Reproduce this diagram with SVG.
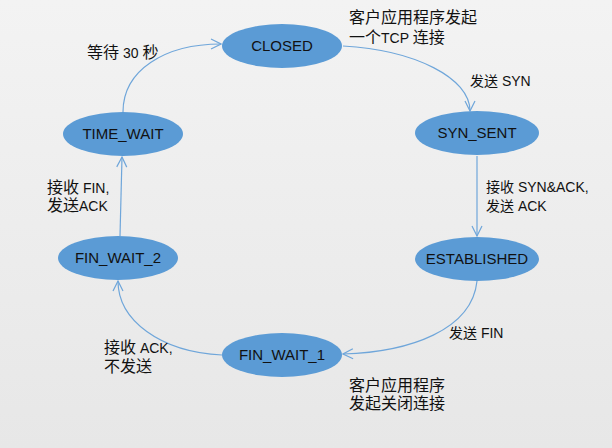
<svg xmlns="http://www.w3.org/2000/svg" width="612" height="448" viewBox="0 0 612 448">
<defs>
<linearGradient id="bg" x1="0" y1="0" x2="0" y2="1">
<stop offset="0" stop-color="#f3f3f3"/>
<stop offset="1" stop-color="#e7e7e7"/>
</linearGradient>
<marker id="arr" viewBox="0 0 12 12" refX="11" refY="6" markerWidth="12" markerHeight="12" markerUnits="userSpaceOnUse" orient="auto">
<path d="M1,1 L11,6 L1,11" fill="none" stroke="#6fa6da" stroke-width="1.2"/>
</marker>
</defs>
<style>
.node{fill:#5b9bd5;}
.nt{font-family:"Liberation Sans","Open Sans",sans-serif;font-size:15px;fill:#111;text-anchor:middle;}
.lb{font-family:"Liberation Sans","Noto Sans CJK SC",sans-serif;font-size:14px;fill:#111;}
.cj{font-size:16px;}
.conn path{fill:none;stroke:#6fa6da;stroke-width:1.2;marker-end:url(#arr);}
</style>
<rect width="612" height="448" fill="url(#bg)"/>
<g id="connectors" class="conn">
<path d="M123,112 C123,70 165,44 221,44"/>
<path d="M343,46 C415,50 470,78 470,111"/>
<path d="M477,156 L477,236"/>
<path d="M477,281 C472,330 410,352 343,354"/>
<path d="M222,355 C160,352 118,320 118,281"/>
<path d="M120,236 L122,157"/>
</g>
<g id="CLOSED"><ellipse class="node" cx="282" cy="46" rx="60" ry="22"/><text class="nt" x="282" y="51">CLOSED</text></g>
<g id="SYN_SENT"><ellipse class="node" cx="477" cy="133" rx="62" ry="22"/><text class="nt" x="477" y="138">SYN_SENT</text></g>
<g id="ESTABLISHED"><ellipse class="node" cx="477" cy="259" rx="62" ry="22"/><text class="nt" x="477" y="264">ESTABLISHED</text></g>
<g id="FIN_WAIT_1"><ellipse class="node" cx="282" cy="355" rx="60" ry="22"/><text class="nt" x="282" y="360">FIN_WAIT_1</text></g>
<g id="FIN_WAIT_2"><ellipse class="node" cx="118" cy="258" rx="60" ry="22"/><text class="nt" x="118" y="263">FIN_WAIT_2</text></g>
<g id="TIME_WAIT"><ellipse class="node" cx="123" cy="134" rx="60" ry="22"/><text class="nt" x="123" y="139">TIME_WAIT</text></g>
<g id="labels">
<text class="lb cj" x="349" y="23">客户应用程序发起</text>
<text class="lb" x="349" y="43"><tspan class="cj">一个</tspan>TCP <tspan class="cj">连接</tspan></text>
<text class="lb" x="470" y="86">发送 SYN</text>
<text class="lb" x="486" y="192">接收 SYN&amp;ACK,</text>
<text class="lb" x="486" y="211">发送 ACK</text>
<text class="lb" x="449" y="338">发送 FIN</text>
<text class="lb cj" x="349" y="391">客户应用程序</text>
<text class="lb cj" x="349" y="409">发起关闭连接</text>
<text class="lb" x="104" y="353"><tspan class="cj">接收</tspan> ACK,</text>
<text class="lb cj" x="104" y="372">不发送</text>
<text class="lb" x="47" y="193"><tspan class="cj">接收</tspan> FIN,</text>
<text class="lb" x="47" y="211"><tspan class="cj">发送</tspan>ACK</text>
<text class="lb" x="87" y="58"><tspan class="cj">等待</tspan> 30 <tspan class="cj">秒</tspan></text>
</g>
</svg>
